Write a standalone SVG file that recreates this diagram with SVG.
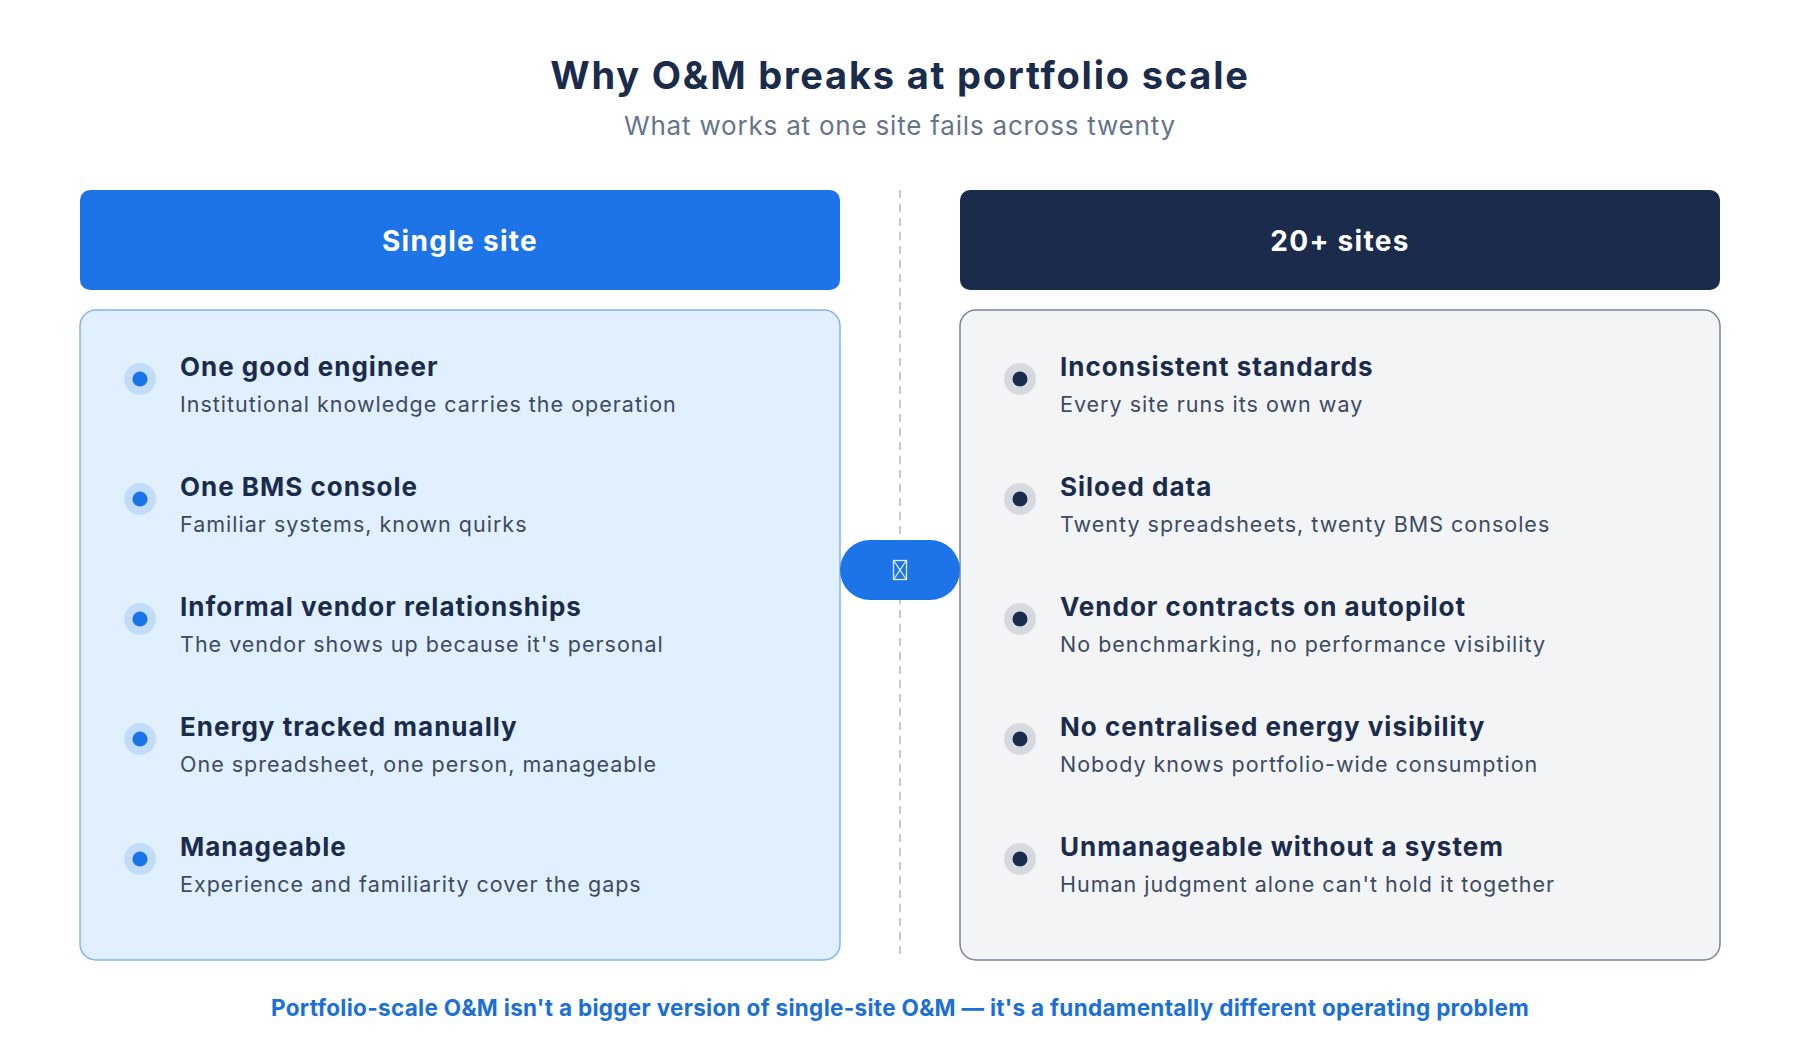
<svg xmlns="http://www.w3.org/2000/svg" width="1800" height="1040" viewBox="0 0 1800 1040">
<style>
text{font-family:Inter,"Liberation Sans","DejaVu Sans",sans-serif}
.title{font-size:38px;font-weight:700;fill:#1a2b4c;text-anchor:middle;letter-spacing:1.8px}
.sub{font-size:26px;font-weight:400;fill:#64748b;text-anchor:middle;letter-spacing:0.8px}
.hdr{font-size:28px;font-weight:700;fill:#ffffff;text-anchor:middle;letter-spacing:1.3px}
.it{font-size:26px;font-weight:700;fill:#1a2b4c;letter-spacing:1px}
.ds{font-size:21.5px;font-weight:400;fill:#3d4a63;letter-spacing:1px}
.foot{font-size:22.5px;font-weight:700;fill:#1b6fd8;text-anchor:middle;letter-spacing:0.3px}
.bo-l{fill:#c3dcfb}.bi-l{fill:#1a73e8}
.bo-r{fill:#d6d9e0}.bi-r{fill:#1a2b4c}
</style>
<rect width="1800" height="1040" fill="#ffffff"/>
<text class="title" x="900" y="89">Why O&amp;M breaks at portfolio scale</text>
<text class="sub" x="900" y="135">What works at one site fails across twenty</text>

<g id="connectors">
<line x1="900" y1="190" x2="900" y2="955" stroke="#c3c8d2" stroke-width="2" stroke-dasharray="8 6"/>
</g>

<g id="left-header">
<rect x="80" y="190" width="760" height="100" rx="10" fill="#1c74e8"/>
<text class="hdr" x="460" y="251">Single site</text>
</g>
<g id="right-header">
<rect x="960" y="190" width="760" height="100" rx="10" fill="#1a2b4c"/>
<text class="hdr" x="1340" y="251">20+ sites</text>
</g>

<g id="left-card">
<rect x="80" y="310" width="760" height="650" rx="16" fill="#e1f0fe" stroke="#82b3f2" stroke-width="1.5"/>
<g id="l1"><circle class="bo-l" cx="140" cy="379" r="16"/><circle class="bi-l" cx="140" cy="379" r="7.5"/>
<text class="it" x="180" y="376">One good engineer</text><text class="ds" x="180" y="412">Institutional knowledge carries the operation</text></g>
<g id="l2"><circle class="bo-l" cx="140" cy="499" r="16"/><circle class="bi-l" cx="140" cy="499" r="7.5"/>
<text class="it" x="180" y="496">One BMS console</text><text class="ds" x="180" y="532">Familiar systems, known quirks</text></g>
<g id="l3"><circle class="bo-l" cx="140" cy="619" r="16"/><circle class="bi-l" cx="140" cy="619" r="7.5"/>
<text class="it" x="180" y="616">Informal vendor relationships</text><text class="ds" x="180" y="652">The vendor shows up because it's personal</text></g>
<g id="l4"><circle class="bo-l" cx="140" cy="739" r="16"/><circle class="bi-l" cx="140" cy="739" r="7.5"/>
<text class="it" x="180" y="736">Energy tracked manually</text><text class="ds" x="180" y="772">One spreadsheet, one person, manageable</text></g>
<g id="l5"><circle class="bo-l" cx="140" cy="859" r="16"/><circle class="bi-l" cx="140" cy="859" r="7.5"/>
<text class="it" x="180" y="856">Manageable</text><text class="ds" x="180" y="892">Experience and familiarity cover the gaps</text></g>
</g>

<g id="right-card">
<rect x="960" y="310" width="760" height="650" rx="16" fill="#f3f4f6" stroke="#7a8499" stroke-width="1.5"/>
<g id="r1"><circle class="bo-r" cx="1020" cy="379" r="16"/><circle class="bi-r" cx="1020" cy="379" r="7.5"/>
<text class="it" x="1060" y="376">Inconsistent standards</text><text class="ds" x="1060" y="412">Every site runs its own way</text></g>
<g id="r2"><circle class="bo-r" cx="1020" cy="499" r="16"/><circle class="bi-r" cx="1020" cy="499" r="7.5"/>
<text class="it" x="1060" y="496">Siloed data</text><text class="ds" x="1060" y="532">Twenty spreadsheets, twenty BMS consoles</text></g>
<g id="r3"><circle class="bo-r" cx="1020" cy="619" r="16"/><circle class="bi-r" cx="1020" cy="619" r="7.5"/>
<text class="it" x="1060" y="616">Vendor contracts on autopilot</text><text class="ds" x="1060" y="652">No benchmarking, no performance visibility</text></g>
<g id="r4"><circle class="bo-r" cx="1020" cy="739" r="16"/><circle class="bi-r" cx="1020" cy="739" r="7.5"/>
<text class="it" x="1060" y="736">No centralised energy visibility</text><text class="ds" x="1060" y="772">Nobody knows portfolio-wide consumption</text></g>
<g id="r5"><circle class="bo-r" cx="1020" cy="859" r="16"/><circle class="bi-r" cx="1020" cy="859" r="7.5"/>
<text class="it" x="1060" y="856">Unmanageable without a system</text><text class="ds" x="1060" y="892">Human judgment alone can't hold it together</text></g>
</g>

<g id="center-badge">
<rect x="840" y="540" width="120" height="60" rx="30" fill="#1c74e8"/>
<g fill="none" stroke="#e6eefc" stroke-width="1.3">
<rect x="893.5" y="560.5" width="13" height="19"/>
<path d="M894 561 L906 579 M906 561 L894 579"/>
</g>
</g>

<text class="foot" x="900" y="1016">Portfolio-scale O&amp;M isn't a bigger version of single-site O&amp;M — it's a fundamentally different operating problem</text>
</svg>
